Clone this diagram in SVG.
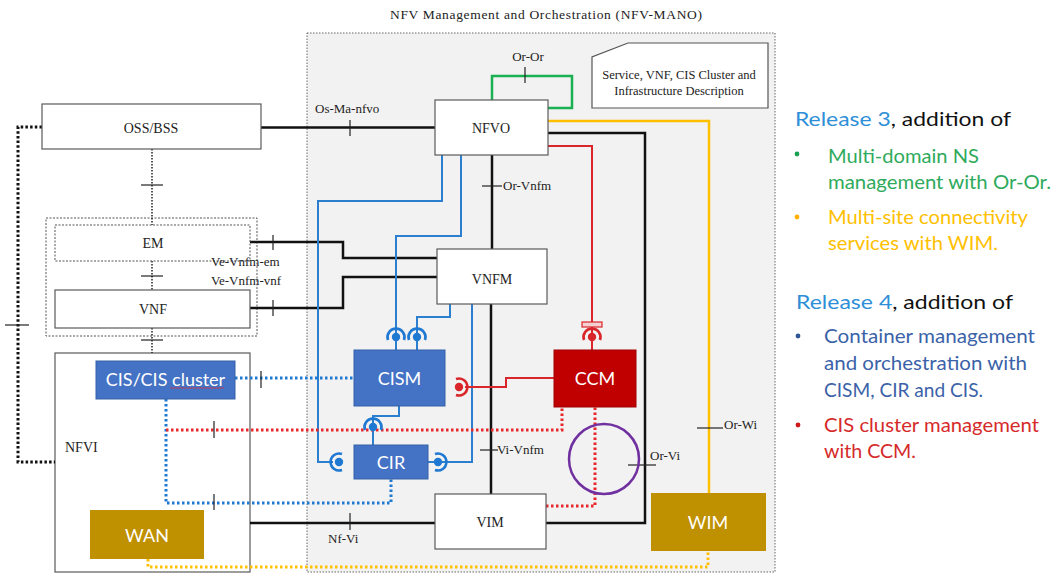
<svg xmlns="http://www.w3.org/2000/svg" width="1056" height="577" viewBox="0 0 1056 577">
  <style>
    .serif { font-family: "Liberation Serif", "Times New Roman", serif; fill: #222; }
    .lbl { font-size: 13px; }
    .name { font-size: 14px; text-anchor: middle; }
    .box { fill: #fff; stroke: #5a5a5a; stroke-width: 1.2; }
    .dotbox { fill: #fff; stroke: #555; stroke-width: 1; stroke-dasharray: 2 1.5; }
    .blueBox { fill: #4472c4; stroke: #3560a8; stroke-width: 1; }
    .goldBox { fill: #bf9000; }
    .boxTxt { font-family: Lato, "Open Sans", sans-serif; font-size: 18px; fill: #fff; text-anchor: middle; }
    .blk { fill: none; stroke: #111; stroke-width: 2.5; }
    .blu { fill: none; stroke: #2b7fce; stroke-width: 2; }
    .red { fill: none; stroke: #d9262a; stroke-width: 2; }
    .grn { fill: none; stroke: #19b052; stroke-width: 2.5; }
    .yel { fill: none; stroke: #ffc000; stroke-width: 2.5; }
    .dotK { fill: none; stroke: #111; stroke-width: 3; stroke-dasharray: 2.5 2.2; }
    .dotk { fill: none; stroke: #222; stroke-width: 1.5; stroke-dasharray: 1.5 1.5; }
    .dotB { fill: none; stroke: #1f78d1; stroke-width: 3; stroke-dasharray: 2.5 2.5; }
    .dotR { fill: none; stroke: #e8262b; stroke-width: 3; stroke-dasharray: 2.5 2.5; }
    .dotY { fill: none; stroke: #ffc000; stroke-width: 3; stroke-dasharray: 2.5 2.5; }
    .tick { stroke: #222; stroke-width: 1.2; }
    .side { font-family: Lato, "Open Sans", sans-serif; font-size: 19px; }
  </style>
  <defs>
    <!-- ball-and-socket interface symbol, socket opening downwards towards the ball -->
    <g id="sock">
      <circle cx="0" cy="0" r="4.2" fill="currentColor"/>
      <path d="M-8,3 A8.5,8.5 0 1 1 8,3" fill="none" stroke="currentColor" stroke-width="2.6"/>
    </g>
  </defs>

  <!-- MANO container -->
  <g id="mano">
    <rect x="307" y="33" width="468" height="539" fill="#f2f2f2" stroke="#666" stroke-width="1" stroke-dasharray="1.5 1.5"/>
    <text class="serif" x="546" y="19" font-size="13.5" text-anchor="middle" textLength="312" lengthAdjust="spacing">NFV Management and Orchestration (NFV-MANO)</text>
  </g>

  <!-- left side containers -->
  <g id="vnf-group">
    <rect x="46" y="218" width="211" height="118" class="dotbox"/>
  </g>
  <g id="nfvi">
    <rect x="55" y="353" width="195" height="219" class="box"/>
    <text class="serif" x="65" y="452" font-size="14">NFVI</text>
  </g>

  <g id="connectors">
    <!-- black reference points -->
    <path class="blk" d="M261,127.5 H435"/>
    <path class="blk" d="M548,133 H645 V523 H546"/>
    <path class="blk" d="M492,155 V249"/>
    <path class="blk" d="M491,304 V494"/>
    <path class="blk" d="M250,242 H343 V258 H437"/>
    <path class="blk" d="M250,308 H343 V277 H437"/>
    <path class="blk" d="M250,523 H435"/>
    <!-- Or-Or -->
    <path class="grn" d="M492,100 V76 H572 V108 H548"/>
    <!-- Or-Wi -->
    <path class="yel" d="M548,121 H709 V493"/>
    <!-- container management interfaces -->
    <path class="blu" d="M442,155 V201 H318 V462 H333"/>
    <path class="blu" d="M461,155 V236 H396 V350"/>
    <path class="blu" d="M450,304 V317 H417 V350"/>
    <path class="blu" d="M428,462 H472 V304"/>
    <path class="blu" d="M373,445 V416 H399 V406"/>
    <!-- CCM interfaces -->
    <path class="red" d="M548,146 H592 V322"/>
    <path class="red" d="M592,327 V350"/>
    <path class="red" d="M465,387 H506 V378 H554"/>

    <!-- dotted links -->
    <path class="dotK" d="M42,127 H18 V462 H55"/>
    <path class="dotk" d="M152,149 V225"/>
    <path class="dotk" d="M152,261 V290"/>
    <path class="dotk" d="M152,328 V353"/>
    <path class="dotB" d="M235,378 H354"/>
    <path class="dotB" d="M166,399 V503 H391 V479"/>
    <path class="dotR" d="M166,430 H562 V407"/>
    <path class="dotR" d="M546,506 H595 V407"/>
    <path class="dotY" d="M148,559 V567 H708 V551"/>

    <!-- ticks -->
    <line class="tick" x1="350" y1="120" x2="350" y2="136"/>
    <line class="tick" x1="141" y1="185" x2="163" y2="185" stroke-width="1.6"/>
    <line class="tick" x1="141" y1="276" x2="163" y2="276" stroke-width="1.6"/>
    <line class="tick" x1="141" y1="340" x2="163" y2="340" stroke-width="1.6"/>
    <line class="tick" x1="5" y1="325" x2="29" y2="325"/>
    <line class="tick" x1="273" y1="235" x2="273" y2="250"/>
    <line class="tick" x1="273" y1="300" x2="273" y2="316"/>
    <line class="tick" x1="525" y1="67" x2="525" y2="83" stroke="#19b052"/>
    <line class="tick" x1="482" y1="186" x2="502" y2="186"/>
    <line class="tick" x1="480" y1="450" x2="498" y2="450"/>
    <line class="tick" x1="628" y1="465" x2="656" y2="465"/>
    <line class="tick" x1="697" y1="428" x2="723" y2="428" stroke="#ffc000"/>
    <line class="tick" x1="350" y1="513" x2="350" y2="530"/>
    <line class="tick" x1="261" y1="371" x2="261" y2="388" stroke="#1f78d1"/>
    <line class="tick" x1="214" y1="494" x2="214" y2="510" stroke="#1f78d1"/>
    <line class="tick" x1="214" y1="421" x2="214" y2="438" stroke="#e8262b"/>

    <!-- interface symbols -->
    <use href="#sock" transform="translate(396,337)" style="color:#1f78d1"/>
    <use href="#sock" transform="translate(417,337)" style="color:#1f78d1"/>
    <use href="#sock" transform="translate(373,427)" style="color:#1f78d1"/>
    <use href="#sock" transform="translate(339,462) rotate(-90)" style="color:#1f78d1"/>
    <use href="#sock" transform="translate(438,462) rotate(90)" style="color:#1f78d1"/>
    <use href="#sock" transform="translate(459,387) rotate(90)" style="color:#d9262a"/>
    <use href="#sock" transform="translate(592,337)" style="color:#d9262a"/>
    <rect x="582" y="322" width="20" height="5" fill="#f6d0d0" stroke="#d9262a" stroke-width="1.2"/>

    <!-- Or-Vi purple ring -->
    <circle cx="604" cy="459" r="35" fill="none" stroke="#7030a0" stroke-width="2.5"/>
  </g>

  <!-- management entities -->
  <g id="descriptors">
    <path d="M628,43 H768 V108 H592 V57 Z" fill="#fff" stroke="#555" stroke-width="1.2"/>
    <text class="serif" font-size="12.5" x="679" y="79" text-anchor="middle">Service, VNF, CIS Cluster and</text>
    <text class="serif" font-size="12.5" x="679" y="95" text-anchor="middle">Infrastructure Description</text>
  </g>
  <g id="oss-bss">
    <rect x="42" y="104" width="219" height="45" class="box"/>
    <text class="serif name" x="151" y="133">OSS/BSS</text>
  </g>
  <g id="em">
    <rect x="55" y="225" width="195" height="36" class="dotbox"/>
    <text class="serif name" x="153" y="248">EM</text>
  </g>
  <g id="vnf">
    <rect x="55" y="290" width="195" height="38" class="box"/>
    <text class="serif name" x="153" y="314">VNF</text>
  </g>
  <g id="nfvo">
    <rect x="435" y="100" width="113" height="55" class="box"/>
    <text class="serif name" x="491" y="133">NFVO</text>
  </g>
  <g id="vnfm">
    <rect x="437" y="249" width="110" height="55" class="box"/>
    <text class="serif name" x="492" y="284">VNFM</text>
  </g>
  <g id="vim">
    <rect x="435" y="494" width="111" height="55" class="box"/>
    <text class="serif name" x="490" y="527">VIM</text>
  </g>
  <g id="cis-cluster">
    <rect x="96" y="361" width="139" height="38" class="blueBox"/>
    <text class="boxTxt" x="165.5" y="386">CIS/CIS cluster</text>
    <path d="M170,388.5 l1.5,-1 l1.5,1 l1.5,-1 l1.5,1 l1.5,-1 l1.5,1 l1.5,-1 l1.5,1 l1.5,-1 l1.5,1 l1.5,-1 l1.5,1 l1.5,-1 l1.5,1 l1.5,-1 l1.5,1 l1.5,-1 l1.5,1 l1.5,-1 l1.5,1 l1.5,-1 l1.5,1 l1.5,-1 l1.5,1 l1.5,-1 l1.5,1 l1.5,-1 l1.5,1 l1.5,-1 l1.5,1 l1.5,-1 l1.5,1 l1.5,-1 l1.5,1 l1.5,-1 l1.5,1" fill="none" stroke="#e0303a" stroke-width="0.8"/>
  </g>
  <g id="cism">
    <rect x="354" y="350" width="91" height="56" class="blueBox"/>
    <text class="boxTxt" x="399.5" y="385">CISM</text>
  </g>
  <g id="cir">
    <rect x="354" y="445" width="74" height="34" class="blueBox"/>
    <text class="boxTxt" x="391" y="469">CIR</text>
  </g>
  <g id="ccm">
    <rect x="554" y="350" width="82" height="57" fill="#c00000" stroke="#a00000" stroke-width="1"/>
    <text class="boxTxt" x="595" y="385">CCM</text>
  </g>
  <g id="wan">
    <rect x="90" y="510" width="114" height="49" class="goldBox"/>
    <text class="boxTxt" x="147" y="542">WAN</text>
  </g>
  <g id="wim">
    <rect x="651" y="493" width="115" height="58" class="goldBox"/>
    <text class="boxTxt" x="708" y="529">WIM</text>
  </g>

  <!-- reference point labels, drawn above boxes and lines -->
  <g id="reference-point-labels">
    <text class="serif lbl" x="315" y="113">Os-Ma-nfvo</text>
    <text class="serif lbl" x="528" y="61" text-anchor="middle">Or-Or</text>
    <text class="serif lbl" x="503" y="190">Or-Vnfm</text>
    <text class="serif lbl" x="497" y="454">Vi-Vnfm</text>
    <text class="serif lbl" x="650" y="460">Or-Vi</text>
    <text class="serif lbl" x="724" y="429">Or-Wi</text>
    <text class="serif lbl" x="328" y="543">Nf-Vi</text>
    <text class="serif lbl" x="211" y="266">Ve-Vnfm-em</text>
    <text class="serif lbl" x="211" y="285">Ve-Vnfm-vnf</text>
  </g>

  <!-- release notes -->
  <g id="release-notes" class="side">
    <text x="795" y="126" textLength="216" lengthAdjust="spacingAndGlyphs"><tspan fill="#2e8fd8">Release 3</tspan><tspan fill="#111">, addition of</tspan></text>
    <circle cx="797" cy="154" r="2.4" fill="#19a050"/>
    <text x="828" y="163" fill="#2eaa5c" textLength="151" lengthAdjust="spacingAndGlyphs">Multi-domain NS</text>
    <text x="828" y="189" fill="#2eaa5c" textLength="223" lengthAdjust="spacingAndGlyphs">management with Or-Or.</text>
    <circle cx="797" cy="217" r="2.4" fill="#ffb000"/>
    <text x="828" y="224" fill="#ffc000" textLength="200" lengthAdjust="spacingAndGlyphs">Multi-site connectivity</text>
    <text x="828" y="250" fill="#ffc000" textLength="170" lengthAdjust="spacingAndGlyphs">services with WIM.</text>
    <text x="796" y="309" textLength="217" lengthAdjust="spacingAndGlyphs"><tspan fill="#2e8fd8">Release 4</tspan><tspan fill="#111">, addition of</tspan></text>
    <circle cx="798" cy="336" r="2.4" fill="#2f5597"/>
    <text x="824" y="343" fill="#3b62a8" textLength="211" lengthAdjust="spacingAndGlyphs">Container management</text>
    <text x="824" y="370" fill="#3b62a8" textLength="203" lengthAdjust="spacingAndGlyphs">and orchestration with</text>
    <text x="824" y="397" fill="#3b62a8" textLength="159" lengthAdjust="spacingAndGlyphs">CISM, CIR and CIS.</text>
    <circle cx="798" cy="425" r="2.4" fill="#d01818"/>
    <text x="824" y="432" fill="#d62a2a" textLength="215" lengthAdjust="spacingAndGlyphs">CIS cluster management</text>
    <text x="824" y="458" fill="#d62a2a" textLength="92" lengthAdjust="spacingAndGlyphs">with CCM.</text>
  </g>
</svg>
